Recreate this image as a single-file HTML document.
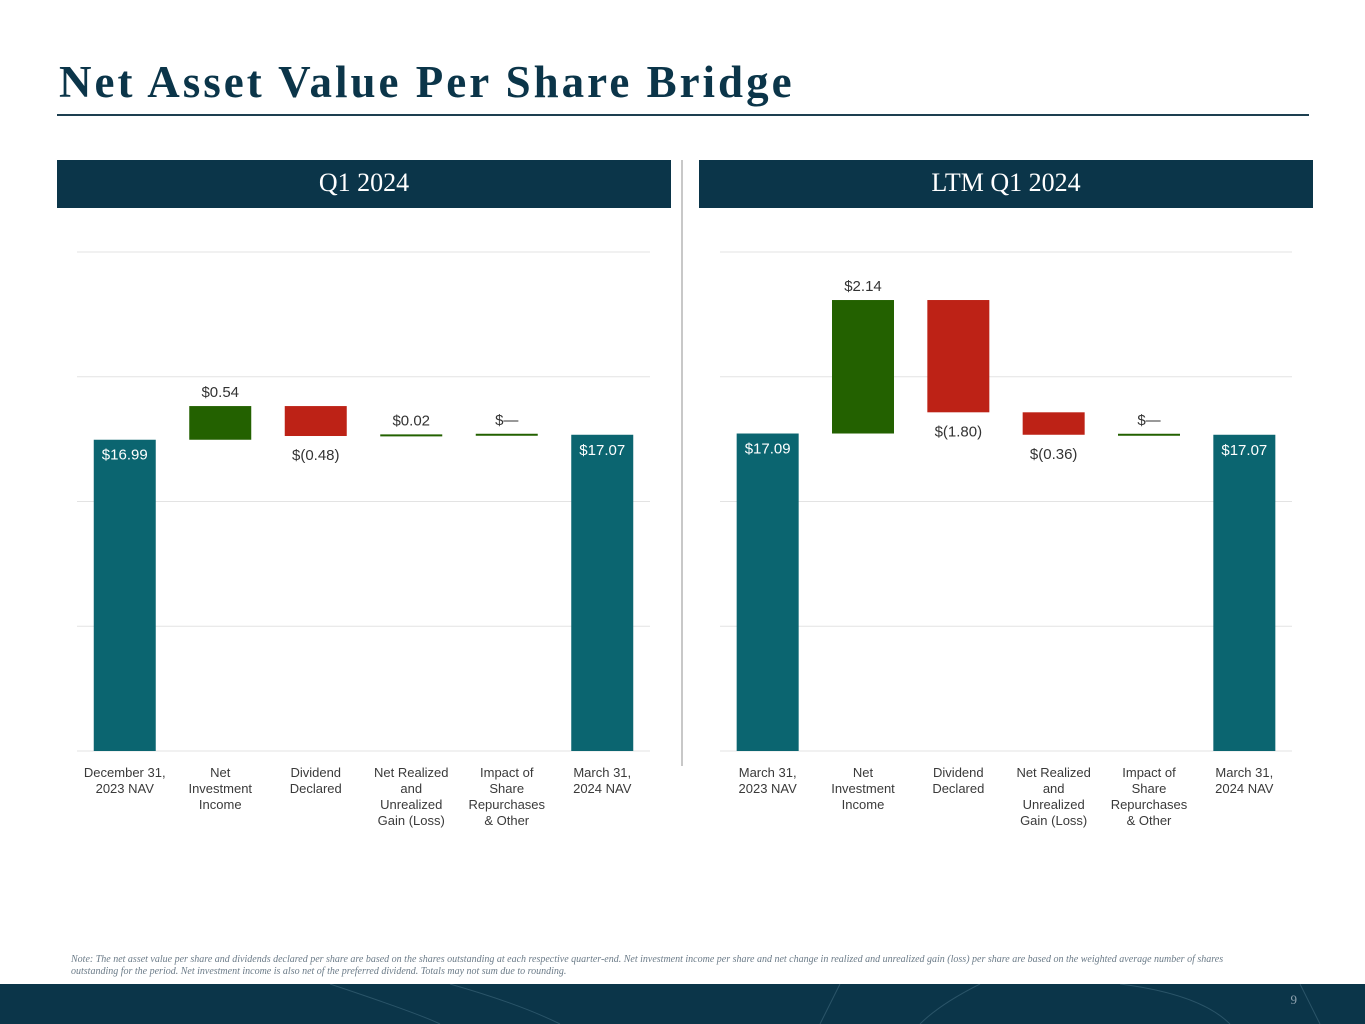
<!DOCTYPE html>
<html><head><meta charset="utf-8"><style>
body{margin:0;width:1365px;height:1024px;background:#fff;position:relative;overflow:hidden;font-family:"Liberation Sans",sans-serif}
.title{position:absolute;left:59px;top:56px;font-family:"Liberation Serif",serif;font-weight:bold;font-size:45px;color:#0b3549;letter-spacing:3px}
.rule{position:absolute;left:57px;top:114px;width:1252px;height:2px;background:#1d3f50}
.hdr{position:absolute;top:160px;height:48px;background:#0b3549;color:#fff;font-family:"Liberation Serif",serif;font-size:26px;text-align:center;line-height:46px}
.div{position:absolute;left:681px;top:160px;width:2px;height:606px;background:#c8c8c8}
.note{position:absolute;left:71px;top:954px;width:1200px;font-family:"Liberation Serif",serif;font-style:italic;font-size:10px;color:#6b7b88;line-height:12px}
.footer{position:absolute;left:0;top:984px;width:1365px;height:40px;background:#0b3549}
.pg{position:absolute;right:68px;top:992px;color:#8fa3b0;font-family:"Liberation Serif",serif;font-size:13px}
</style></head><body>
<div class="title">Net Asset Value Per Share Bridge</div>
<div class="rule"></div>
<div class="hdr" style="left:57px;width:614px">Q1 2024</div>
<div class="hdr" style="left:699px;width:614px">LTM Q1 2024</div>
<div class="div"></div>
<svg id="chart" width="1365" height="1024" style="position:absolute;left:0;top:0"></svg>
<div class="note">Note: The net asset value per share and dividends declared per share are based on the shares outstanding at each respective quarter-end. Net investment income per share and net change in realized and unrealized gain (loss) per share are based on the weighted average number of shares outstanding for the period. Net investment income is also net of the preferred dividend. Totals may not sum due to rounding.</div>
<div class="footer">
<svg width="1365" height="40" style="position:absolute;left:0;top:0"><g fill="none" stroke="#2a5468" stroke-width="1"><path d="M330 0 Q420 30 440 40"/><path d="M450 0 Q520 20 560 40"/><path d="M840 0 L820 40"/><path d="M980 0 Q940 20 920 40"/><path d="M1120 0 Q1200 10 1230 40"/><path d="M1300 0 L1320 40"/></g></svg>
</div>
<div class="pg">9</div>
<script>
const categoriesQ1 = [["December 31,","2023 NAV"],["Net","Investment","Income"],["Dividend","Declared"],["Net Realized","and","Unrealized","Gain (Loss)"],["Impact of","Share","Repurchases","& Other"],["March 31,","2024 NAV"]];
const categoriesLTM = [["March 31,","2023 NAV"],["Net","Investment","Income"],["Dividend","Declared"],["Net Realized","and","Unrealized","Gain (Loss)"],["Impact of","Share","Repurchases","& Other"],["March 31,","2024 NAV"]];
const valuesQ1 = [16.99, 0.54, -0.48, 0.02, 0, 17.07];
const valuesLTM = [17.09, 2.14, -1.80, -0.36, 0, 17.07];
const labelsQ1 = ["$16.99","$0.54","$(0.48)","$0.02","$—","$17.07"];
const labelsLTM = ["$17.09","$2.14","$(1.80)","$(0.36)","$—","$17.07"];
const gridTicks = [12, 14, 16, 18, 20];
const yMin = 12, yMax = 20;

const svg = document.getElementById('chart');
const NS = 'http://www.w3.org/2000/svg';
function mk(t, a){const e=document.createElementNS(NS,t);for(const k in a)e.setAttribute(k,a[k]);svg.appendChild(e);return e;}
function yScale(v){return 751 - (v - yMin) * (751 - 252) / (yMax - yMin);}

function drawChart(x0, x1, cats, vals, labs, key){
  const step = (x1 - x0) / cats.length;
  const bw = 62;
  gridTicks.forEach(t=>{
    const g = mk('line',{x1:x0,x2:x1,y1:yScale(t),y2:yScale(t),stroke:'#e3e3e3','stroke-width':1});
    
    
  });
  let run = 0;
  vals.forEach((v,i)=>{
    const cx = x0 + step*(i+0.5);
    const isTotal = (i===0 || i===vals.length-1);
    let top, bot, fill;
    if(isTotal){ top=yScale(v); bot=yScale(yMin); fill='#0b6570'; run=v; }
    else {
      const a=yScale(run), b=yScale(run+v);
      top=Math.min(a,b); bot=Math.max(a,b);
      fill = v<0 ? '#bd2216' : '#236100';
      if(bot-top<2){ const m=(top+bot)/2; top=m-1; bot=m+1; fill='#236100'; }
      run += v;
    }
    const r = mk('rect',{x:cx-bw/2,y:top,width:bw,height:bot-top,fill:fill});
    
    
    let ty, col='#333';
    if(isTotal){ ty=top+20; col='#fff'; }
    else if(v<0 && bot-top>2){ ty=bot+24; }
    else { ty=top-9; }
    const t = mk('text',{x:cx,y:ty,'text-anchor':'middle','font-size':15,fill:col,'font-family':'Liberation Sans, sans-serif'});
    t.textContent = labs[i];
    
    
    cats[i].forEach((ln,j)=>{
      const c = mk('text',{x:cx,y:777+j*16,'text-anchor':'middle','font-size':13,fill:'#3a3a3a','font-family':'Liberation Sans, sans-serif'});
      c.textContent = ln;
      
      
    });
  });
}
drawChart(77, 650, categoriesQ1, valuesQ1, labelsQ1, 'q1');
drawChart(720, 1292, categoriesLTM, valuesLTM, labelsLTM, 'ltm');
</script>
</body></html>
